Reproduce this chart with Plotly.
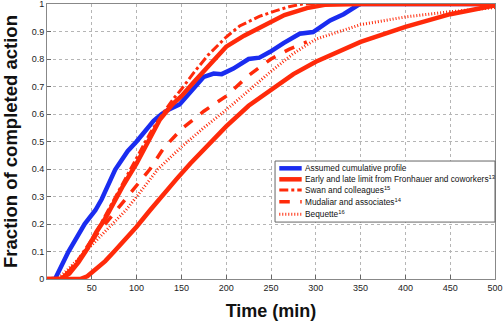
import plotly.graph_objects as go

# ---------------- data ----------------
blue_t = [5, 9, 24, 42, 54, 61, 76, 90, 100, 110, 119, 128, 135, 148, 163, 175, 186, 195, 208, 225, 237, 249, 264, 282, 297, 316, 331, 349, 500]
blue_f = [0, 0, 0.1, 0.2, 0.25, 0.29, 0.397, 0.465, 0.5, 0.54, 0.575, 0.6, 0.615, 0.635, 0.69, 0.735, 0.747, 0.745, 0.765, 0.80, 0.805, 0.826, 0.858, 0.892, 0.898, 0.94, 0.963, 1.0, 1.0]

early_t = [0, 15, 25, 35, 45, 55, 65, 75, 85, 100, 113, 126, 140, 150, 165, 180, 200, 220, 240, 265, 290, 310, 350, 500]
early_f = [0, 0, 0.02, 0.06, 0.11, 0.17, 0.22, 0.28, 0.34, 0.42, 0.5, 0.58, 0.635, 0.665, 0.72, 0.775, 0.845, 0.885, 0.92, 0.96, 0.985, 0.997, 1, 1]

late_t = [0, 37, 45, 55, 65, 75, 88, 100, 115, 130, 145, 160, 180, 200, 225, 250, 275, 300, 350, 400, 450, 500]
late_f = [0, 0, 0.01, 0.035, 0.065, 0.1, 0.145, 0.19, 0.25, 0.31, 0.365, 0.42, 0.49, 0.555, 0.63, 0.69, 0.745, 0.79, 0.862, 0.917, 0.963, 0.995]

swan_t = [0, 15, 25, 35, 45, 55, 65, 75, 85, 100, 115, 130, 141, 150, 165, 180, 200, 215, 237, 255, 270, 285, 300]
swan_f = [0, 0, 0.03, 0.07, 0.12, 0.17, 0.23, 0.29, 0.35, 0.44, 0.53, 0.605, 0.655, 0.69, 0.755, 0.815, 0.88, 0.92, 0.955, 0.975, 0.99, 1.0, 1.0]

muda_t = [0, 15, 25, 35, 45, 55, 65, 80, 95, 115, 130, 150, 175, 200, 225, 250, 270, 290]
muda_f = [0, 0, 0.03, 0.07, 0.11, 0.16, 0.2, 0.26, 0.32, 0.4, 0.475, 0.545, 0.61, 0.665, 0.74, 0.8, 0.835, 0.862]

beq_t = [0, 12, 25, 40, 55, 70, 88, 105, 124, 150, 175, 200, 225, 250, 275, 300, 350, 400, 450, 500]
beq_f = [0, 0, 0.04, 0.09, 0.14, 0.19, 0.25, 0.32, 0.40, 0.48, 0.55, 0.615, 0.685, 0.755, 0.82, 0.872, 0.925, 0.953, 0.972, 0.987]

x_ticks = [50, 100, 150, 200, 250, 300, 350, 400, 450, 500]
y_ticks = [0, 0.1, 0.2, 0.3, 0.4, 0.5, 0.6, 0.7, 0.8, 0.9, 1]
y_tick_text = ["0", "0.1", "0.2", "0.3", "0.4", "0.5", "0.6", "0.7", "0.8", "0.9", "1"]

legend_labels = [
    "Assumed cumulative profile",
    "Early and late limit from Fronhauer and coworkers<sup>13</sup>",
    "Swan and colleagues<sup>15</sup>",
    "Mudaliar and associates<sup>14</sup>",
    "Bequette<sup>16</sup>",
]

RED = "#ff2a0a"
BLUE = "#1a2cf0"
FONT = "Liberation Sans, Arial, sans-serif"

styles = [
    dict(color=BLUE, width=4.5, dash="solid"),
    dict(color=RED, width=4.5, dash="solid"),
    dict(color=RED, width=3, dash="dashdot"),
    dict(color=RED, width=3.5, dash="dash"),
    dict(color=RED, width=3, dash="1px,2px"),
]

fig = go.Figure()
fig.add_trace(go.Scatter(x=blue_t, y=blue_f, mode="lines", name=legend_labels[0], line=styles[0]))
fig.add_trace(go.Scatter(x=early_t, y=early_f, mode="lines", name=legend_labels[1], line=styles[1]))
fig.add_trace(go.Scatter(x=late_t, y=late_f, mode="lines", name="Late limit (Fronhauer)", line=styles[1]))
fig.add_trace(go.Scatter(x=swan_t, y=swan_f, mode="lines", name=legend_labels[2], line=styles[2]))
fig.add_trace(go.Scatter(x=muda_t, y=muda_f, mode="lines", name=legend_labels[3], line=styles[3]))
fig.add_trace(go.Scatter(x=beq_t, y=beq_f, mode="lines", name=legend_labels[4], line=styles[4]))

axis_common = dict(showline=True, linecolor="#888888", linewidth=1, mirror=True,
                   showgrid=True, gridcolor="#b5b5b5", griddash="dot", gridwidth=1,
                   zeroline=False, ticks="inside", ticklen=4, tickcolor="#666666",
                   automargin=False, ticklabeloverflow="allow",
                   tickfont=dict(family=FONT, size=9, color="#222222"))

fig.update_xaxes(range=[0, 500], tickvals=x_ticks, ticktext=[str(v) for v in x_ticks],
                 title=dict(text="<b>Time (min)</b>", font=dict(family=FONT, size=18, color="#111111"),
                            standoff=12),
                 **axis_common)
fig.update_yaxes(range=[0, 1], tickvals=y_ticks, ticktext=y_tick_text,
                 title=dict(text="<b>Fraction of completed action</b>",
                            font=dict(family=FONT, size=18.5, color="#111111"), standoff=11),
                 **axis_common)

# compact legend box (paper coordinates of the plot area)
box = dict(x0=0.509, x1=1.0, y0=0.207, y1=0.429)
fig.add_shape(type="rect", xref="paper", yref="paper", layer="above",
              line=dict(color="#666666", width=1), fillcolor="white", **box)
row_y = [0.4025, 0.3625, 0.3236, 0.281, 0.2353]
for lab, st, yy in zip(legend_labels, styles, row_y):
    fig.add_shape(type="line", xref="paper", yref="paper", layer="above",
                  x0=0.5185, x1=0.5685, y0=yy, y1=yy, line=st)
    fig.add_annotation(xref="paper", yref="paper", x=0.5715, y=yy, text=lab, showarrow=False,
                       xanchor="left", yanchor="middle",
                       font=dict(family=FONT, size=8.3, color="#111111"))

fig.update_layout(
    width=504, height=324,
    margin=dict(l=47, r=9, t=4, b=45, autoexpand=False),
    paper_bgcolor="white", plot_bgcolor="white",
    showlegend=False,
)

fig.write_html("out.html", config={"displayModeBar": False},
               post_script="document.body.style.margin='0px';")
